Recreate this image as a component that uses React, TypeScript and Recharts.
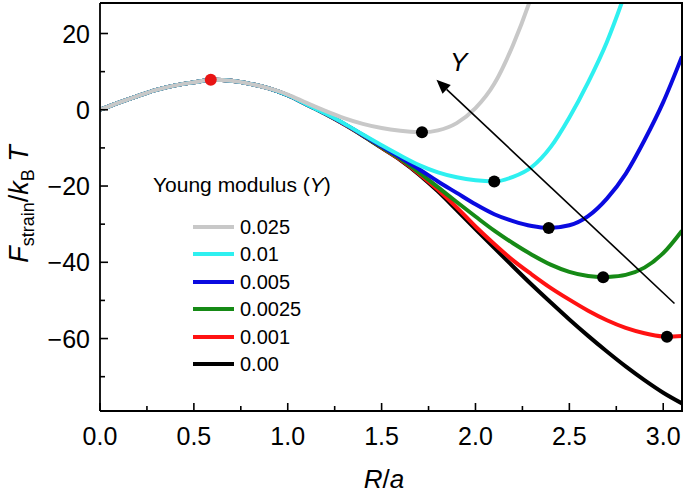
import React from 'react';
import { ComposedChart, Line, Scatter, XAxis, YAxis, ReferenceLine, ReferenceDot, Label } from 'recharts';

// R/a sample grid
const R = [0, 0.1, 0.2, 0.3, 0.4, 0.5, 0.6, 0.7, 0.8, 0.9, 1.0, 1.1, 1.2, 1.3, 1.4, 1.5,
  1.6, 1.7, 1.8, 1.9, 2.0, 2.1, 2.2, 2.3, 2.4, 2.5, 2.6, 2.7, 2.8, 2.9, 3.0, 3.1];

const START = [0, 1.9, 3.6, 5.2, 6.4, 7.2, 7.84, 7.6, 6.8, 5.6];

const GRAY = [...START, 4.0, 1.8, -0.3, -2.2, -3.7, -4.8, -5.5, -5.88, -5.4, -3.5, 0.4, 6.8,
  17.0, 30.0, 46, null, null, null, null, null, null, null];
const CYAN = [...START, 3.8, 1.4, -1.0, -3.6, -6.5, -9.3, -12.0, -14.5, -16.4, -17.7, -18.5, -18.8,
  -17.6, -15.0, -9.8, -2.0, 7.2, 17.8, 31, 46, null, null];
const BLUE = [...START, 3.8, 1.4, -1.0, -3.7, -6.6, -9.6, -12.5, -15.6, -18.8, -21.8, -24.8, -27.4,
  -29.2, -30.5, -30.95, -30.3, -27.9, -23.3, -16.8, -8.0, 2.0, 14.0];
const GREEN = [...START, 3.8, 1.4, -1.0, -3.7, -6.7, -9.8, -12.9, -16.5, -20.3, -24.2, -28.0, -31.7,
  -35.0, -38.0, -40.6, -42.5, -43.6, -43.85, -43.3, -41.4, -37.6, -31.7];
const RED = [...START, 3.8, 1.4, -1.0, -3.8, -6.7, -9.9, -13.1, -16.8, -21.0, -25.6, -30.6, -35.2,
  -39.5, -43.2, -46.7, -49.8, -52.7, -55.2, -57.2, -58.6, -59.45, -59.3];
const BLACK = [...START, 3.8, 1.4, -1.1, -3.8, -6.8, -10.0, -13.2, -17.0, -21.4, -26.3, -31.3, -36.2,
  -41.1, -45.9, -50.5, -55.0, -59.3, -63.4, -67.3, -70.9, -74.2, -77.0];

// minima (black dots), one per finite-Y curve
const MIN_R = [1.715, 2.1, 2.39, 2.68, 3.02];
const MIN_F = [-5.9, -18.8, -31.0, -43.9, -59.5];

// barrier top (red dot)
const SADDLE_R = [0.59];
const SADDLE_F = [7.85];

const NAMES = ['0.025', '0.01', '0.005', '0.0025', '0.001', '0.00'];
const COLORS = ['#c8c8c8', '#2ef0f0', '#0a0ae0', '#168a16', '#ff1212', '#000000'];
const VALUES = [GRAY, CYAN, BLUE, GREEN, RED, BLACK];

const X_TICKS = [0, 0.25, 0.5, 0.75, 1, 1.25, 1.5, 1.75, 2, 2.25, 2.5, 2.75, 3];
const Y_TICKS = [20, 10, 0, -10, -20, -30, -40, -50, -60, -70];
const X_DOMAIN = [0, 3.1];
const Y_DOMAIN = [-79, 28];

const FONT = '"Liberation Sans", Arial, Helvetica, sans-serif';

const buildSeries = (vals: (number | null)[], i: number) => {
  const pts = R.map((r, j) => ({ x: r, y: vals[j] })).filter(
    (p) => p.y !== null && (i >= MIN_R.length || Math.abs(p.x - MIN_R[i]) > 0.015)
  );
  if (i < MIN_R.length) pts.push({ x: MIN_R[i], y: MIN_F[i] });
  return pts.sort((a, b) => a.x - b.x);
};

const minPoints = MIN_R.map((r, i) => ({ x: r, y: MIN_F[i] }));
const saddlePoints = SADDLE_R.map((r, i) => ({ x: r, y: SADDLE_F[i] }));

const XTick = (props: any) => {
  const { x, y, payload } = props;
  const v = payload.value;
  const major = Math.abs(v * 2 - Math.round(v * 2)) < 1e-6;
  return (
    <g>
      <line x1={x} x2={x} y1={y} y2={y - (major ? 8 : 5)} stroke="#000" strokeWidth={1.6} />
      {major && (
        <text x={x} y={y + 34} textAnchor="middle" fontSize={25} fontFamily={FONT} fill="#000">
          {v.toFixed(1)}
        </text>
      )}
    </g>
  );
};

const YTick = (props: any) => {
  const { x, y, payload } = props;
  const v = payload.value;
  const major = v % 20 === 0;
  return (
    <g>
      <line x1={x} x2={x + (major ? 8 : 5)} y1={y} y2={y} stroke="#000" strokeWidth={1.6} />
      {major && (
        <text x={x - 10} y={y + 9} textAnchor="end" fontSize={25} fontFamily={FONT} fill="#000">
          {v < 0 ? '\u2212' + Math.abs(v) : String(v)}
        </text>
      )}
    </g>
  );
};

const Arrow = (p: any) => {
  const { x1, y1, x2, y2 } = p;
  const dx = x2 - x1;
  const dy = y2 - y1;
  const L = Math.hypot(dx, dy) || 1;
  const ux = dx / L;
  const uy = dy / L;
  const hl = 14;
  const hw = 6;
  const bx = x2 - ux * hl;
  const by = y2 - uy * hl;
  return (
    <g>
      <line x1={x1} y1={y1} x2={bx} y2={by} stroke="#000" strokeWidth={1.6} />
      <polygon
        points={`${x2},${y2} ${bx - uy * hw},${by + ux * hw} ${bx + uy * hw},${by - ux * hw}`}
        fill="#000"
      />
    </g>
  );
};

const YLabel = (props: any) => {
  const vb = props.viewBox;
  const cy = vb.y + vb.height / 2 - 3;
  return (
    <text
      x={28}
      y={cy}
      transform={`rotate(-90, 28, ${cy})`}
      textAnchor="middle"
      fontFamily={FONT}
      fontSize={27}
      fill="#000"
    >
      <tspan fontStyle="italic">F</tspan>
      <tspan fontSize={18} dy={6}>strain</tspan>
      <tspan dy={-6}>/</tspan>
      <tspan fontStyle="italic">k</tspan>
      <tspan fontSize={18} dy={6}>B</tspan>
      <tspan dy={-6} fontStyle="italic"> T</tspan>
    </text>
  );
};

const XLabel = (props: any) => {
  const vb = props.viewBox;
  return (
    <text x={vb.x + vb.width / 2 - 7} y={vb.y + 77} textAnchor="middle" fontFamily={FONT} fontSize={26} fill="#000">
      <tspan fontStyle="italic">R</tspan>
      <tspan>/</tspan>
      <tspan fontStyle="italic">a</tspan>
    </text>
  );
};

const Dot = (color: string) => (p: any) => <circle cx={p.cx} cy={p.cy} r={6} fill={color} />;

const LegendBox = () => (
  <div style={{ position: 'absolute', left: 0, top: 0, pointerEvents: 'none', fontFamily: FONT, color: '#000' }}>
    <div style={{ position: 'absolute', left: 153, top: 173, fontSize: 21, whiteSpace: 'nowrap', lineHeight: '24px' }}>
      Young modulus (<i>Y</i>)
    </div>
    {NAMES.map((n, i) => (
      <React.Fragment key={n}>
        <div
          style={{
            position: 'absolute',
            left: 193,
            top: 227 + i * 27.4 - 2,
            width: 41,
            height: 4,
            background: COLORS[i],
          }}
        />
        <div
          style={{
            position: 'absolute',
            left: 240,
            top: 227 + i * 27.4 - 12,
            fontSize: 20,
            lineHeight: '24px',
            whiteSpace: 'nowrap',
          }}
        >
          {n}
        </div>
      </React.Fragment>
    ))}
  </div>
);

// top and right edges of the plot frame
const Frame = () => (
  <div
    style={{
      position: 'absolute',
      left: 100,
      top: 2,
      width: 581,
      height: 408,
      borderTop: '2px solid #000',
      borderRight: '2px solid #000',
      pointerEvents: 'none',
      zIndex: 5,
    }}
  />
);

export default function App() {
  const order = [5, 4, 3, 2, 1, 0];
  return (
    <div style={{ position: 'absolute', left: 0, top: 0, width: 685, height: 495, background: '#fff' }}>
      <ComposedChart width={685} height={495} margin={{ top: 3, right: 3, bottom: 0, left: 0 }}>
        <XAxis
          type="number"
          dataKey="x"
          domain={X_DOMAIN}
          ticks={X_TICKS}
          interval={0}
          allowDataOverflow
          height={84}
          tickSize={0}
          tickMargin={0}
          tickLine={false}
          tick={<XTick />}
          axisLine={{ stroke: '#000', strokeWidth: 1.8 }}
        >
          <Label content={<XLabel />} />
        </XAxis>
        <YAxis
          type="number"
          dataKey="y"
          domain={Y_DOMAIN}
          ticks={Y_TICKS}
          interval={0}
          allowDataOverflow
          width={100}
          tickSize={0}
          tickMargin={0}
          tickLine={false}
          tick={<YTick />}
          axisLine={{ stroke: '#000', strokeWidth: 1.8 }}
        >
          <Label content={<YLabel />} />
        </YAxis>
        {order.map((i) => (
          <Line
            key={NAMES[i]}
            name={NAMES[i]}
            data={buildSeries(VALUES[i], i)}
            dataKey="y"
            type="monotone"
            stroke={COLORS[i]}
            strokeWidth={4}
            dot={false}
            activeDot={false}
            isAnimationActive={false}
          />
        ))}
        <ReferenceLine
          segment={[{ x: 3.06, y: -50.8 }, { x: 1.792, y: 7.85 }]}
          shape={<Arrow />}
        />
        <ReferenceDot
          x={1.91}
          y={12.6}
          r={0}
          shape={(p: any) => (
            <text x={p.cx} y={p.cy + 9} textAnchor="middle" fontFamily={FONT} fontSize={26} fontStyle="italic" fill="#000">
              Y
            </text>
          )}
        />
        <Scatter data={minPoints} dataKey="y" shape={Dot('#000')} isAnimationActive={false} />
        <Scatter data={saddlePoints} dataKey="y" shape={Dot('#e81414')} isAnimationActive={false} />
      </ComposedChart>
      <Frame />
      <LegendBox />
    </div>
  );
}
